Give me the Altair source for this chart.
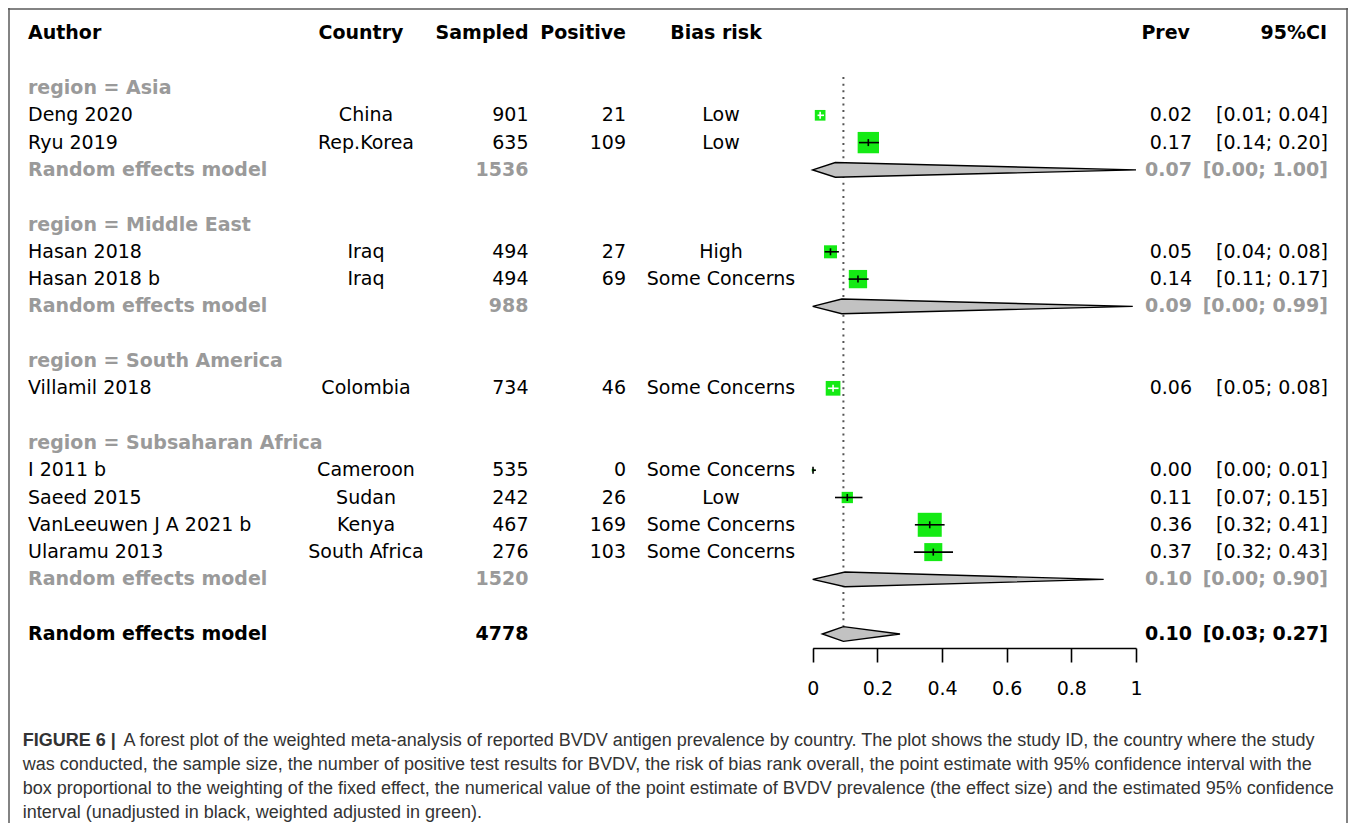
import math
import altair as alt
import pandas as pd

FONT = "DejaVu Sans"
CAP_FONT = "Liberation Sans"
GREEN = "#14ea14"
GREY_TXT = "#9a9a9a"

# ---------------- study level data ----------------
authors = ["Deng 2020", "Ryu 2019", "Hasan 2018", "Hasan 2018 b", "Villamil 2018",
           "I 2011 b", "Saeed 2015", "VanLeeuwen J A 2021 b", "Ularamu 2013"]
study_region = ["Asia", "Asia", "Middle East", "Middle East", "South America",
                "Subsaharan Africa", "Subsaharan Africa", "Subsaharan Africa", "Subsaharan Africa"]
countries = ["China", "Rep.Korea", "Iraq", "Iraq", "Colombia",
             "Cameroon", "Sudan", "Kenya", "South Africa"]
sampled = [901, 635, 494, 494, 734, 535, 242, 467, 276]
positive = [21, 109, 27, 69, 46, 0, 26, 169, 103]
bias_risk = ["Low", "Low", "High", "Some Concerns", "Some Concerns",
             "Some Concerns", "Low", "Some Concerns", "Some Concerns"]
prev_text = ["0.02", "0.17", "0.05", "0.14", "0.06", "0.00", "0.11", "0.36", "0.37"]
ci_text = ["[0.01; 0.04]", "[0.14; 0.20]", "[0.04; 0.08]", "[0.11; 0.17]", "[0.05; 0.08]",
           "[0.00; 0.01]", "[0.07; 0.15]", "[0.32; 0.41]", "[0.32; 0.43]"]
# plotted point estimates and confidence limits (as drawn)
est = [0.023, 0.172, 0.055, 0.140, 0.063, 0.001, 0.107, 0.362, 0.373]
ci_lo = [0.015, 0.143, 0.037, 0.111, 0.047, 0.000, 0.069, 0.316, 0.313]
ci_hi = [0.035, 0.205, 0.081, 0.173, 0.080, 0.010, 0.154, 0.408, 0.434]
weight = [4.9, 19.6, 7.3, 14.4, 9.3, 0.3, 5.5, 24.8, 14.0]  # box weight (%)

# ---------------- subgroup / overall ----------------
regions = ["Asia", "Middle East", "South America", "Subsaharan Africa"]
region_n = [1536, 988, None, 1520]
region_prev_text = ["0.07", "0.09", None, "0.10"]
region_ci_text = ["[0.00; 1.00]", "[0.00; 0.99]", None, "[0.00; 0.90]"]
region_est = [0.07, 0.09, None, 0.10]
region_lo = [0.00, 0.00, None, 0.00]
region_hi = [1.00, 0.99, None, 0.90]

overall_n = 4778
overall_prev_text = "0.10"
overall_ci_text = "[0.03; 0.27]"
overall_est = 0.095
overall_lo = 0.03
overall_hi = 0.27

axis_ticks = [0, 0.2, 0.4, 0.6, 0.8, 1]

headers = {"author": "Author", "country": "Country", "sampled": "Sampled",
           "positive": "Positive", "bias": "Bias risk", "prev": "Prev", "ci": "95%CI"}

caption_bold = "FIGURE 6 |"
caption_lines = [
    "A forest plot of the weighted meta-analysis of reported BVDV antigen prevalence by country. The plot shows the study ID, the country where the study",
    "was conducted, the sample size, the number of positive test results for BVDV, the risk of bias rank overall, the point estimate with 95% confidence interval with the",
    "box proportional to the weighting of the fixed effect, the numerical value of the point estimate of BVDV prevalence (the effect size) and the estimated 95% confidence",
    "interval (unadjusted in black, weighted adjusted in green).",
]

# ---------------- layout ----------------
W, H = 1340, 640
X0, X1 = 804.7, 1128.0
xscale = alt.Scale(domain=[0, 1], range=[X0, X1], nice=False, zero=False)
yscale = alt.Scale(domain=[0, 20], range=[80, 626], nice=False, zero=False)
SIZE_MAX = 576
size_scale = alt.Scale(domain=[0, max(weight)], range=[0, SIZE_MAX])
xaxis = alt.Axis(values=axis_ticks, format="~g", title=None, grid=False,
                 domainColor="black", domainWidth=1.6, tickColor="black", tickWidth=1.6,
                 tickSize=14, labelFont=FONT, labelFontSize=19, labelColor="black",
                 labelPadding=17, labelFlush=False, labelOverlap=False)

cols = {"author": (20, "left"), "country": (358, "center"), "sampled": (520.5, "right"),
        "positive": (618, "right"), "bias": (713, "center"), "prev": (1184, "right"),
        "ci": (1320, "right")}
hcols = {"author": (20, "left"), "country": (353, "center"), "sampled": (520.5, "right"),
         "positive": (618, "right"), "bias": (708, "center"), "prev": (1182, "right"),
         "ci": (1319, "right")}

# ---------------- build rows ----------------
text_rows, study_rows, diamond_rows = [], [], []
r = 0
for gi, g in enumerate(regions):
    text_rows.append(dict(r=r, col="author", text=f"region = {g}", bold=True, color=GREY_TXT))
    r += 1
    for i, s in enumerate(study_region):
        if s != g:
            continue
        vals = [("author", authors[i]), ("country", countries[i]), ("sampled", str(sampled[i])),
                ("positive", str(positive[i])), ("bias", bias_risk[i]),
                ("prev", prev_text[i]), ("ci", ci_text[i])]
        for c, v in vals:
            text_rows.append(dict(r=r, col=c, text=v, bold=False, color="black"))
        side = math.sqrt(weight[i] / max(weight) * SIZE_MAX)
        ci_px = (ci_hi[i] - ci_lo[i]) * (X1 - X0)
        study_rows.append(dict(r=r, est=est[i], lo=ci_lo[i], hi=ci_hi[i], weight=weight[i],
                               ci_color="white" if ci_px < side - 2 else "black"))
        r += 1
    if region_n[gi] is not None:
        for c, v in [("author", "Random effects model"), ("sampled", str(region_n[gi])),
                     ("prev", region_prev_text[gi]), ("ci", region_ci_text[gi])]:
            text_rows.append(dict(r=r, col=c, text=v, bold=True, color=GREY_TXT))
        diamond_rows.append((f"g{gi}", r, region_est[gi], region_lo[gi], region_hi[gi]))
        r += 1
    r += 1
overall_row = r
for c, v in [("author", "Random effects model"), ("sampled", str(overall_n)),
             ("prev", overall_prev_text), ("ci", overall_ci_text)]:
    text_rows.append(dict(r=overall_row, col=c, text=v, bold=True, color="black"))
diamond_rows.append(("overall", overall_row, overall_est, overall_lo, overall_hi))

text_df = pd.DataFrame(text_rows)
study_df = pd.DataFrame(study_rows)
HALF = 0.27
dpts = []
for g, rr, e, lo, hi in diamond_rows:
    dpts += [dict(g=g, x=lo, y1=rr, y2=rr), dict(g=g, x=e, y1=rr - HALF, y2=rr + HALF),
             dict(g=g, x=hi, y1=rr, y2=rr)]
diamond_df = pd.DataFrame(dpts)
ref_df = pd.DataFrame({"x": [overall_est], "y1": [-0.4], "y2": [overall_row - 0.3]})
head_df = pd.DataFrame({"col": list(headers.keys()), "text": list(headers.values()),
                        "r": [-2] * len(headers), "color": ["black"] * len(headers)})

layers = []

# reference dotted line
layers.append(alt.Chart(ref_df).mark_rule(color="#555555", strokeWidth=2, strokeDash=[2, 4.6]).encode(
    x=alt.X("x:Q", scale=xscale, axis=xaxis),
    y=alt.Y("y1:Q", scale=yscale, axis=None), y2="y2:Q"))

# diamonds
layers.append(alt.Chart(diamond_df).mark_area(orient="vertical", fill="#c2c2c2", stroke="black",
                                               strokeWidth=1.4, opacity=1, fillOpacity=1).encode(
    x=alt.X("x:Q", scale=xscale, axis=xaxis),
    y=alt.Y("y1:Q", scale=yscale, axis=None), y2="y2:Q", detail="g:N"))

# boxes
layers.append(alt.Chart(study_df).mark_square(color=GREEN, opacity=1, strokeWidth=0).encode(
    x=alt.X("est:Q", scale=xscale, axis=xaxis),
    y=alt.Y("r:Q", scale=yscale, axis=None),
    size=alt.Size("weight:Q", scale=size_scale, legend=None)))

# CI lines
layers.append(alt.Chart(study_df).mark_rule(strokeWidth=1.6).encode(
    x=alt.X("lo:Q", scale=xscale, axis=xaxis), x2="hi:Q",
    y=alt.Y("r:Q", scale=yscale, axis=None),
    color=alt.Color("ci_color:N", scale=None)))

# estimate ticks
layers.append(alt.Chart(study_df).mark_tick(orient="vertical", size=7, thickness=1.6, opacity=1).encode(
    x=alt.X("est:Q", scale=xscale, axis=xaxis),
    y=alt.Y("r:Q", scale=yscale, axis=None),
    color=alt.Color("ci_color:N", scale=None)))


def txt(df, x, align, bold, font=FONT, size=19):
    return alt.Chart(df).mark_text(align=align, baseline="middle", font=font, fontSize=size,
                                   fontWeight="bold" if bold else "normal").encode(
        x=alt.value(x), y=alt.Y("r:Q", scale=yscale, axis=None),
        text=alt.Text("text:N"), color=alt.Color("color:N", scale=None))


for c, (x, al) in cols.items():
    for b in (True, False):
        sub = text_df[(text_df["col"] == c) & (text_df["bold"] == b)]
        if len(sub):
            layers.append(txt(sub, x, al, b))
for c, (x, al) in hcols.items():
    layers.append(txt(head_df[head_df["col"] == c], x, al, True))

# frame
one = pd.DataFrame({"a": [0]})
FRAME = "#5a5a5a"
layers.append(alt.Chart(one).mark_rule(color=FRAME, strokeWidth=1.5).encode(
    x=alt.value(0), x2=alt.value(W), y=alt.value(1)))
layers.append(alt.Chart(one).mark_rule(color=FRAME, strokeWidth=1.5).encode(
    x=alt.value(1), y=alt.value(0), y2=alt.value(815)))
layers.append(alt.Chart(one).mark_rule(color=FRAME, strokeWidth=1.5).encode(
    x=alt.value(W - 1), y=alt.value(0), y2=alt.value(815)))

# caption
CAP_SIZE = 18
CAP_COLOR = "#333333"
cap_y = [733, 757, 781, 805]
layers.append(alt.Chart(one).mark_text(align="left", baseline="middle", font=CAP_FONT, fontSize=CAP_SIZE,
                                       fontWeight="bold", color=CAP_COLOR).encode(
    x=alt.value(14.7), y=alt.value(cap_y[0]), text=alt.value(caption_bold)))
for k, line in enumerate(caption_lines):
    layers.append(alt.Chart(one).mark_text(align="left", baseline="middle", font=CAP_FONT,
                                           fontSize=CAP_SIZE, color=CAP_COLOR).encode(
        x=alt.value(115.5 if k == 0 else 14.7), y=alt.value(cap_y[k]), text=alt.value(line)))

chart = alt.layer(*layers).properties(
    width=W, height=H,
    autosize=alt.AutoSizeParams(type="none"),
    padding={"left": 0, "top": 0, "right": 0, "bottom": 175},
    background="white",
).configure_view(stroke=None)

chart.save("out.html", embed_options={"renderer": "svg", "actions": False})
